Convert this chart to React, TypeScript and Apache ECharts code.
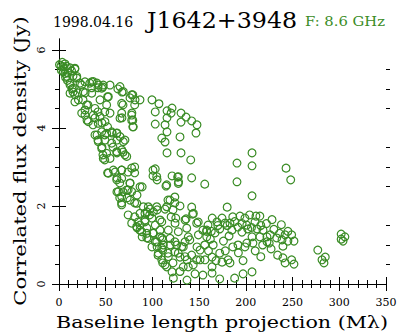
import React, { useEffect, useRef } from "react";
import * as echarts from "echarts";

const GREEN = "#3a8c25";

const yMajorTicks = [0, 2, 4, 6];
const yMinorTicks = [0.5, 1, 1.5, 2.5, 3, 3.5, 4.5, 5, 5.5];

// Upper band (short baselines, high flux)
const upperBand: [number, number][] = [
  [0.5, 5.62], [2.1, 5.59], [3.5, 5.68], [6.4, 5.64], [2.5, 5.48], [4.3, 5.44], [5.5, 5.52], [8, 5.58],
  [9.6, 5.41], [11.8, 5.54], [13.5, 5.46], [17, 5.51], [7, 5.3], [9, 5.22], [15, 5.33], [19, 5.28],
  [11.8, 5.1], [14, 5.0], [8.5, 5.32], [22.5, 5.15], [27.8, 5.18], [35, 5.18], [40.7, 5.15], [35, 5.03],
  [41.7, 5.03], [47, 5.05], [54.6, 5.1], [63, 5.0], [67.4, 4.92], [79, 4.85], [76, 4.77], [86.7, 4.72],
  [68.5, 4.59], [81, 4.59], [15, 4.92], [20, 4.9], [28, 4.9], [17, 4.67], [25.7, 4.72], [31, 4.59],
  [52, 4.8], [51, 4.59], [41.7, 4.41], [27.8, 4.33], [30, 4.2], [38.5, 4.26], [49, 4.41], [54.6, 4.38],
  [78, 4.38], [79, 4.2], [67.4, 4.26], [79, 4.03], [36.4, 4.08], [46, 4.13], [52, 4.03], [40.7, 3.82],
  [49, 3.82], [41.7, 3.69], [57, 3.87], [62, 3.87], [62, 3.69], [70.6, 3.69], [46, 3.51], [57.8, 3.51],
  [68.5, 3.38], [47, 3.31],
];

const upperBandMore: [number, number][] = [
  [4.6, 5.57], [6.4, 5.4], [17, 5.53], [19, 5.32], [11.8, 5.15], [15.3, 5.02], [11.8, 4.89], [17, 4.85],
  [20.7, 4.72], [24.3, 5.1], [26, 4.93], [33, 5.15], [35, 4.89], [36.7, 5.19], [42, 5.1], [45.7, 5.02],
  [47.4, 5.1], [52.8, 4.8], [43.9, 4.72], [38.5, 4.5], [27.8, 4.46], [29.6, 4.59], [24.3, 4.38],
  [36.7, 4.33], [43.9, 4.29], [31.4, 4.16], [42, 4.12], [49.2, 4.16], [45.7, 3.9], [38.5, 3.82], [51, 3.86],
  [56.4, 3.9], [61.8, 3.86], [65.3, 3.78], [68.8, 3.65], [42, 3.65], [49.2, 3.69], [56.4, 3.61],
  [45.7, 3.48], [51, 3.35], [47.4, 3.22], [54.6, 3.22], [61.8, 3.39], [67.1, 3.44], [72.5, 3.27],
  [65.3, 5.06], [68.8, 4.93], [77.8, 4.85], [81.4, 4.72], [67.1, 4.63], [67.1, 4.38], [77.8, 4.33],
  [65.3, 4.25], [77.8, 4.2], [79.5, 4.03],
];

// Upper scattered cloud (100-150 Mλ)
const upperCloud: [number, number][] = [
  [99.5, 4.72], [107, 4.62], [103, 4.41], [115.6, 4.44], [121, 4.51], [120, 4.38], [130.6, 4.38],
  [136, 4.28], [130.6, 4.15], [142, 4.18], [147.7, 4.08], [146.6, 3.87], [115.6, 4.26], [113.5, 4.08],
  [103, 4.1], [115.6, 3.9], [110, 3.74], [113.5, 3.64], [129.5, 3.77], [115.6, 3.36], [130.6, 3.36],
  [141, 3.18],
];

// Middle band
const middleBand: [number, number][] = [
  [49, 3.18], [62, 3.36], [70.6, 3.31], [52, 2.85], [60, 2.87], [67, 2.92], [74, 2.87], [81, 3.0],
  [81, 2.85], [100.6, 2.92], [105, 2.67], [62, 2.72], [65, 2.59], [76, 2.59], [74, 2.41], [89, 2.49],
  [62, 2.36], [68.5, 2.36], [83.5, 2.28], [65, 2.21], [73, 2.21], [67, 2.08], [81, 2.08], [103, 2.95],
  [100.6, 2.77], [114.5, 2.51], [121, 2.77], [127, 2.74], [128, 2.62], [142, 2.72], [156, 2.56],
  [116.6, 2.15], [124, 2.23], [124, 2.08], [129.5, 2.0], [97.4, 1.92], [105, 1.9], [113.5, 1.92],
  [122, 1.9], [142, 1.97],
];

const middleBandMore: [number, number][] = [
  [52.8, 2.84], [58.1, 2.92], [67.1, 2.92], [77.8, 2.97], [61.8, 2.67], [67.1, 2.71], [76, 2.58],
  [86.7, 2.49], [63.5, 2.37], [72.5, 2.41], [77.8, 2.37], [67.1, 2.24], [76, 2.15], [67.1, 2.03],
  [83.2, 2.07], [104.6, 2.75], [115.3, 2.54], [127.7, 2.75], [127.7, 2.58], [118.8, 2.15], [115.3, 1.98],
  [90.3, 1.98], [95.6, 1.98], [104.6, 1.98], [101, 1.85], [92, 1.81], [86.7, 1.81], [77.8, 1.56],
  [86.7, 1.51], [92, 1.64], [108.1, 1.64],
];

// Lower dense cloud (75-210 Mλ)
const lowerCloud: [number, number][] = [
  [74, 1.77], [81, 1.72], [94, 1.85], [97, 1.77], [84.6, 1.59], [92, 1.59], [99.5, 1.69], [83.5, 1.44],
  [86.7, 1.38], [94, 1.44], [103, 1.51], [110, 1.59], [89, 1.21], [94, 1.18], [100.6, 1.31], [110, 1.18],
  [103, 1.08], [99.5, 0.95], [106, 0.74], [110, 0.92], [111, 0.54], [120, 1.72], [125, 1.69], [136, 1.67],
  [143, 1.79], [149, 1.59], [105, 0.95], [111, 1.13], [119, 1.0], [124, 1.08], [111, 0.87], [116.6, 0.79],
  [124, 0.82], [133, 0.95], [140, 1.13], [147.7, 0.95], [156, 1.0], [129.5, 0.69], [137, 0.62], [122, 0.54],
  [113.5, 0.49], [133, 0.44], [143.6, 0.49], [151, 0.62], [163.8, 0.69], [172, 0.79], [174.5, 0.56],
  [183, 0.54], [163.8, 0.44], [121, 0.31], [137, 0.1], [145.6, 0.26], [154, 0.23], [163.8, 0.28],
  [172, 0.13], [188, 0.15], [197, 0.26], [206.6, 0.31], [180, 1.97], [160, 0.85], [162, 1.15],
  [158, 1.35], [165, 1.0], [168, 0.6], [178, 0.85], [181, 0.62], [176, 1.1], [186, 0.95], [192, 0.8],
  [197, 0.6], [199, 0.95], [210, 0.85], [216, 0.7],
];

const lowerCloudMore: [number, number][] = [
  [83.2, 1.47], [88.5, 1.34], [93.9, 1.3], [95.6, 1.17], [101, 1.3], [104.6, 1.08], [106.3, 0.79],
  [111.7, 1.0], [110, 0.62], [117, 0.7], [115.3, 0.44], [127.7, 0.79], [126, 1.0], [118.8, 1.17],
  [117, 1.38], [127.7, 1.34], [124.2, 1.56], [134.9, 1.64], [136.7, 1.43], [138.4, 1.21], [134.9, 1.08],
  [131.4, 0.96], [134.9, 0.7], [142, 0.74], [138.4, 0.44], [129.5, 0.32], [122.4, 0.15], [147.4, 0.62],
  [151, 0.87], [149.2, 1.26], [158.1, 1.38], [147.4, 1.56], [143.8, 1.81], [108.1, 1.38], [108.1, 1.21],
  [156.3, 0.62], [158.1, 1.21],
];

// Right cloud (155-260 Mλ)
const rightCloud: [number, number][] = [
  [164, 1.69], [169, 1.59], [174.5, 1.69], [177.7, 1.56], [183, 1.56], [186, 1.72], [193.7, 1.74],
  [199, 1.69], [204, 1.77], [210.8, 1.74], [215, 1.74], [209.8, 1.59], [201, 1.51], [191.6, 1.46],
  [185, 1.38], [195.8, 1.33], [202, 1.41], [212, 1.41], [218.4, 1.38], [222.6, 1.21], [215, 1.21],
  [206.6, 1.21], [201, 1.05], [207.6, 1.05], [191.6, 1.0], [182, 1.23], [172, 1.41], [167, 1.31],
  [159.5, 1.51], [154, 1.38], [233, 1.18], [234, 0.74], [227, 0.9], [222.6, 1.08], [226, 1.26],
  [238.7, 1.13], [242, 1.26], [249, 1.26], [245, 1.1], [251.5, 1.1], [239.7, 0.97], [239.7, 0.67],
  [242, 0.54], [249, 0.62], [251.5, 0.51], [218, 1.0], [225, 1.05], [230, 1.4], [236, 1.3], [245, 1.35],
  [238, 1.52], [222, 1.55], [228, 1.65], [216, 1.5], [206, 1.45], [196, 1.55], [188, 1.6], [180, 1.5],
  [170, 1.5], [163, 1.35],
];

// Long baselines and isolated points
const farPoints: [number, number][] = [
  [277, 0.87], [285, 0.69], [281.5, 0.62], [283.6, 0.54], [302, 1.28], [306, 1.21], [302, 1.15],
  [304, 1.1], [190.5, 3.1], [206.6, 3.36], [206.6, 3.03], [190.5, 2.62], [206.6, 2.26], [243, 2.97],
  [248, 2.67],
];

const allPoints = [
  ...upperBand, ...upperBandMore, ...upperCloud, ...middleBand, ...middleBandMore,
  ...lowerCloud, ...lowerCloudMore, ...rightCloud, ...farPoints,
];

const SERIF = '"DejaVu Serif", serif';

export default function App() {
  const ref = useRef<HTMLDivElement>(null);
  useEffect(() => {
    if (!ref.current) return;
    const chart = echarts.init(ref.current, undefined, { renderer: "svg" });
    const axisLine = { show: true, lineStyle: { color: "#000", width: 1 } };
    const xBase = {
      type: "value" as const,
      min: 0,
      max: 350,
      interval: 50,
      axisLine,
      axisTick: { show: true, length: 7, lineStyle: { color: "#000" } },
      minorTick: { show: true, splitNumber: 5, length: 4, lineStyle: { color: "#000" } },
      splitLine: { show: false },
    };
    const yBase = {
      type: "value" as const,
      min: 0,
      max: 6.28,
      interval: 2,
      splitLine: { show: false },
    };
    chart.setOption({
      animation: false,
      backgroundColor: "#fff",
      grid: { left: 59, right: 15, top: 39, bottom: 49 },
      xAxis: [
        {
          ...xBase,
          position: "bottom",
          axisLabel: { show: true, color: "#000", fontFamily: SERIF, fontSize: 11, margin: 13 },
        },
        { ...xBase, position: "top", axisLabel: { show: false } },
      ],
      yAxis: [
        {
          ...yBase,
          position: "left",
          axisLine,
          axisTick: { show: true, length: 7, customValues: yMajorTicks, lineStyle: { color: "#000" } },
          axisLabel: {
            show: true,
            customValues: yMajorTicks,
            rotate: 90,
            color: "#000",
            fontFamily: SERIF,
            fontSize: 11,
            margin: 12,
          },
        },
        {
          ...yBase,
          position: "right",
          axisLine,
          axisTick: { show: true, length: 7, customValues: yMajorTicks, lineStyle: { color: "#000" } },
          axisLabel: { show: false },
        },
        {
          ...yBase,
          position: "left",
          axisLine: { show: false },
          axisTick: { show: true, length: 4, customValues: yMinorTicks, lineStyle: { color: "#000" } },
          axisLabel: { show: false },
        },
        {
          ...yBase,
          position: "right",
          axisLine: { show: false },
          axisTick: { show: true, length: 4, customValues: yMinorTicks, lineStyle: { color: "#000" } },
          axisLabel: { show: false },
        },
      ],
      graphic: [
        {
          type: "text",
          x: 53,
          y: 22,
          style: { text: "1998.04.16", font: `14px ${SERIF}`, fill: "#000", align: "left", verticalAlign: "middle" },
        },
        {
          type: "text",
          x: 222,
          y: 20,
          scaleX: 1.08,
          style: { text: "J1642+3948", font: `22px ${SERIF}`, fill: "#000", align: "center", verticalAlign: "middle" },
        },
        {
          type: "text",
          x: 305,
          y: 22,
          scaleX: 1.23,
          style: { text: "F: 8.6 GHz", font: `12px ${SERIF}`, fill: GREEN, align: "left", verticalAlign: "middle" },
        },
        {
          type: "text",
          x: 222,
          y: 322,
          scaleX: 1.29,
          style: {
            text: "Baseline length projection (Mλ)",
            font: `16px ${SERIF}`,
            fill: "#000",
            align: "center",
            verticalAlign: "middle",
          },
        },
        {
          type: "text",
          x: 20,
          y: 161,
          rotation: Math.PI / 2,
          scaleX: 1.32,
          style: {
            text: "Correlated flux density (Jy)",
            font: `16px ${SERIF}`,
            fill: "#000",
            align: "center",
            verticalAlign: "middle",
          },
        },
      ],
      series: [
        {
          type: "scatter",
          xAxisIndex: 0,
          yAxisIndex: 0,
          data: allPoints,
          symbol: "circle",
          symbolSize: 7.8,
          itemStyle: { color: "transparent", borderColor: GREEN, borderWidth: 1.2, opacity: 1 },
          emphasis: { disabled: true },
          silent: true,
        },
      ],
    });
    return () => chart.dispose();
  }, []);
  return (
    <div
      ref={ref}
      style={{ position: "fixed", left: 0, top: 0, width: 401, height: 333 }}
    />
  );
}
